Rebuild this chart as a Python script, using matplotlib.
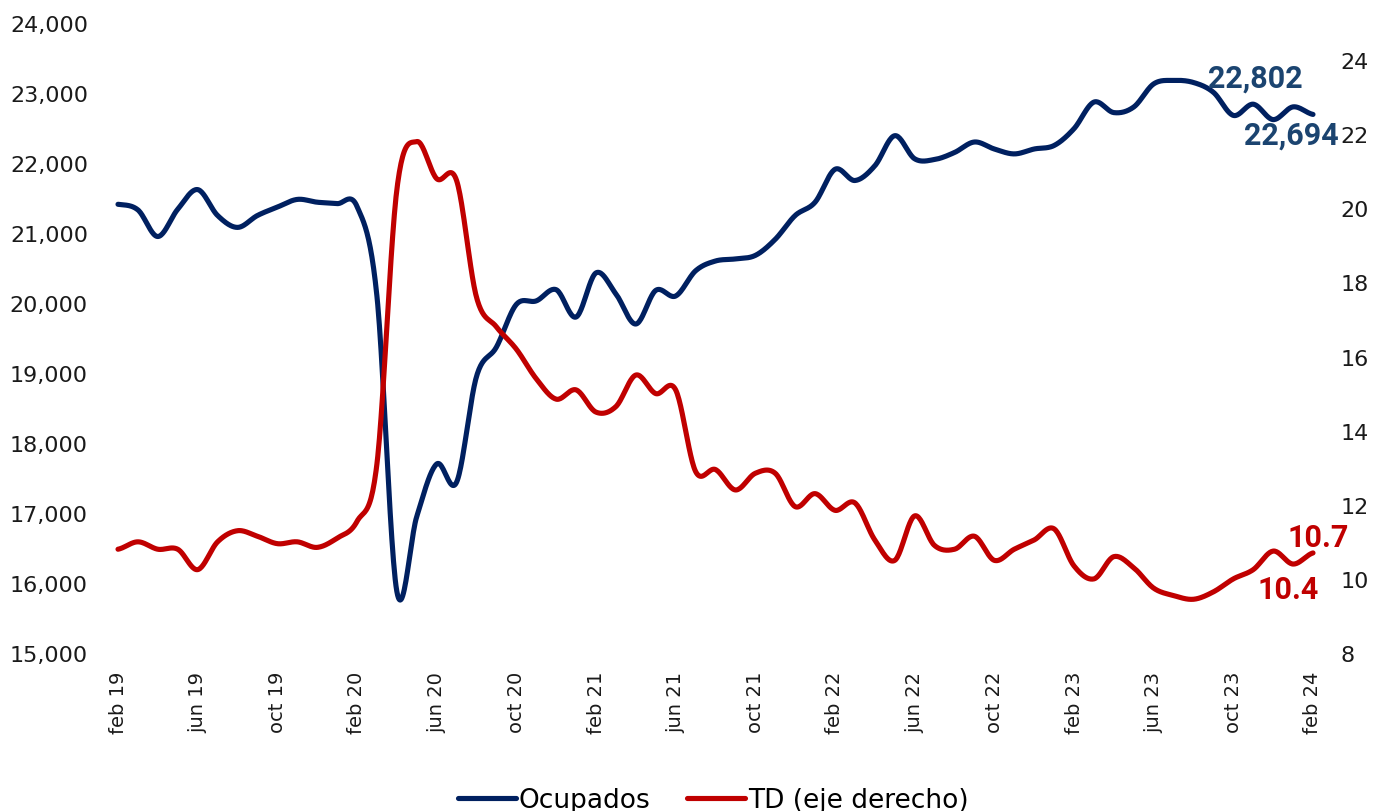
import numpy as np
import matplotlib
matplotlib.use("Agg")
import matplotlib.pyplot as plt

# ---------------- data ----------------
tick_labels = ["feb 19", "jun 19", "oct 19", "feb 20", "jun 20", "oct 20",
               "feb 21", "jun 21", "oct 21", "feb 22", "jun 22", "oct 22",
               "feb 23", "jun 23", "oct 23", "feb 24"]

ocupados = [21410, 21330, 20950, 21340, 21620, 21250, 21080, 21250, 21370, 21480,
            21440, 21420, 21380, 20100, 15880, 16950, 17700, 17440, 18950, 19370,
            19980, 20030, 20190, 19800, 20430, 20130, 19700, 20180, 20100, 20460,
            20600, 20630, 20680, 20910, 21250, 21440, 21910, 21750, 21960, 22390,
            22060, 22050, 22150, 22300, 22200, 22130, 22200, 22250, 22490, 22870,
            22720, 22800, 23130, 23180, 23150, 23010, 22680, 22840, 22620, 22802,
            22694]

td = [10.8, 11.0, 10.8, 10.8, 10.25, 11.0, 11.3, 11.15, 10.95, 11.0,
      10.85, 11.1, 11.55, 13.1, 20.5, 21.8, 20.8, 20.75, 17.6, 16.8,
      16.2, 15.4, 14.85, 15.1, 14.5, 14.65, 15.5, 15.0, 15.1, 12.9,
      12.95, 12.4, 12.85, 12.85, 11.95, 12.3, 11.85, 12.05, 11.05, 10.5,
      11.7, 10.9, 10.8, 11.15, 10.5, 10.8, 11.05, 11.35, 10.35, 10.0,
      10.6, 10.3, 9.75, 9.55, 9.45, 9.65, 10.0, 10.25, 10.75, 10.4,
      10.7]

series_names = ["Ocupados", "TD (eje derecho)"]

BLUE = "#002060"
RED = "#C00000"
LABEL_BLUE = "#1B4470"


def smooth(y, n=24):
    """Excel-style smoothed line (Catmull-Rom as cubic Bezier)."""
    y = np.asarray(y, dtype=float)
    m = len(y)
    xs, ys = [], []
    t = np.linspace(0, 1, n, endpoint=False)
    for i in range(m - 1):
        p0 = y[i - 1] if i > 0 else y[i]
        p1 = y[i]
        p2 = y[i + 1]
        p3 = y[i + 2] if i + 2 < m else y[i + 1]
        c1 = p1 + (p2 - p0) / 6.0
        c2 = p2 - (p3 - p1) / 6.0
        b = ((1 - t) ** 3 * p1 + 3 * (1 - t) ** 2 * t * c1
             + 3 * (1 - t) * t ** 2 * c2 + t ** 3 * p2)
        xs.append(i + t)
        ys.append(b)
    xs.append(np.array([m - 1.0]))
    ys.append(np.array([y[-1]]))
    return np.concatenate(xs), np.concatenate(ys)


fig = plt.figure(figsize=(13.75, 8.12), dpi=100)
W, H = 1375.0, 812.0
x0_px, x60_px = 118.0, 1313.0
ppu = (x60_px - x0_px) / 60.0
lo, hi = -0.6, 60.6
left = (x0_px + lo * ppu) / W
width = (hi - lo) * ppu / W
bottom = 1 - 654.0 / H
height = 630.0 / H
ax = fig.add_axes([left, bottom, width, height])
ax2 = ax.twinx()

n = len(ocupados)
sx, sy = smooth(ocupados)
l1, = ax.plot(sx, sy, color=BLUE, lw=3.7, solid_capstyle="round",
              label=series_names[0], clip_on=False)
tx, ty = smooth(td)
l2, = ax2.plot(tx, ty, color=RED, lw=3.7, solid_capstyle="round",
               label=series_names[1], clip_on=False)

ax.set_xlim(lo, hi)
ax.set_ylim(15000, 24000)
ax2.set_ylim(8, 25)
ax.set_yticks(np.arange(15000, 24001, 1000))
ax.set_yticklabels([f"{v:,.0f}" for v in np.arange(15000, 24001, 1000)])
ax2.set_yticks(np.arange(8, 25, 2))
ax.set_xticks(np.arange(0, n, 4))
ax.set_xticklabels(tick_labels, rotation=90)

for a in (ax, ax2):
    for s in a.spines.values():
        s.set_visible(False)
    a.tick_params(length=0)

ax.tick_params(axis="y", labelsize=16, pad=13, colors="#1a1a1a")
ax.tick_params(axis="x", labelsize=14, pad=13, colors="#1a1a1a")
ax2.tick_params(axis="y", labelsize=16, pad=11, colors="#1a1a1a")
for lab in ax.get_xticklabels():
    lab.set_va("top")

afont = dict(family="Roboto", weight="bold", size=22)
ax.annotate(f"{ocupados[-2]:,.0f}", xy=(n - 2, ocupados[-2]), xytext=(-38, 29),
            textcoords="offset pixels", ha="center", va="center",
            color=LABEL_BLUE, **afont)
ax.annotate(f"{ocupados[-1]:,.0f}", xy=(n - 1, ocupados[-1]), xytext=(-22, -20),
            textcoords="offset pixels", ha="center", va="center",
            color=LABEL_BLUE, **afont)
ax2.annotate(f"{td[-1]:.1f}", xy=(n - 1, td[-1]), xytext=(5, 16),
             textcoords="offset pixels", ha="center", va="center",
             color=RED, **afont)
ax2.annotate(f"{td[-2]:.1f}", xy=(n - 2, td[-2]), xytext=(-5, -25),
             textcoords="offset pixels", ha="center", va="center",
             color=RED, **afont)

fig.legend(handles=[l1, l2], labels=series_names, loc="center",
           bbox_to_anchor=(713 / W, 1 - 801 / H), ncol=2, frameon=False,
           fontsize=19, handlelength=2.2, handletextpad=0.1,
           columnspacing=1.4)

fig.savefig("out.png", dpi=100, facecolor="white")
